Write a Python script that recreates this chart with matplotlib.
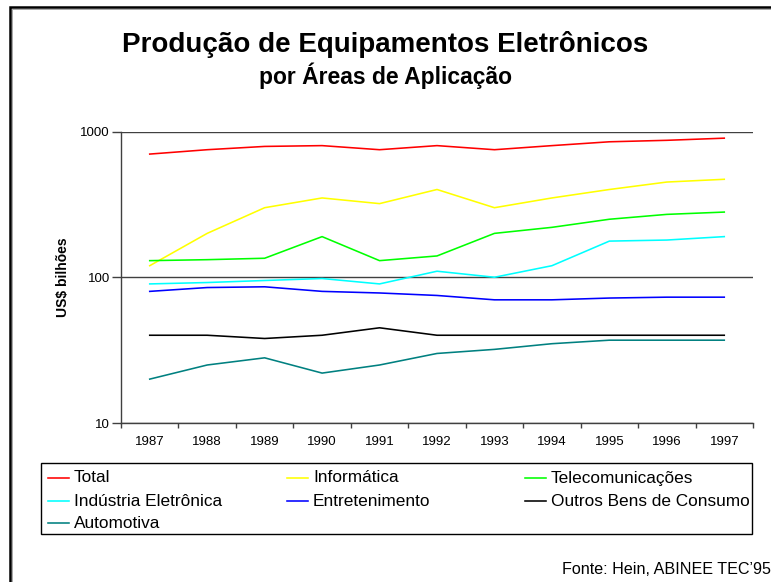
import matplotlib
matplotlib.use("Agg")
import matplotlib.pyplot as plt
from matplotlib.lines import Line2D
from matplotlib.patches import Rectangle
from matplotlib.ticker import FixedLocator, NullLocator, FixedFormatter

plt.rcParams['font.family'] = ['Liberation Sans', 'DejaVu Sans']

years = ['1987', '1988', '1989', '1990', '1991', '1992', '1993', '1994', '1995', '1996', '1997']
total = [700, 750, 790, 800, 750, 800, 750, 800, 850, 870, 900]
informatica = [120, 200, 300, 350, 320, 400, 300, 350, 400, 450, 470]
telecom = [130, 132, 135, 190, 130, 140, 200, 220, 250, 270, 280]
industria = [90, 92, 95, 98, 90, 110, 100, 120, 177, 180, 190]
entretenimento = [80, 85, 86, 80, 78, 75, 70, 70, 72, 73, 73]
outros = [40, 40, 38, 40, 45, 40, 40, 40, 40, 40, 40]
automotiva = [20, 25, 28, 22, 25, 30, 32, 35, 37, 37, 37]

names = ['Total', 'Informática', 'Telecomunicações', 'Indústria Eletrônica',
         'Entretenimento', 'Outros Bens de Consumo', 'Automotiva']
values = [total, informatica, telecom, industria, entretenimento, outros, automotiva]
colors = ['#FF0000', '#FFFF00', '#00FF00', '#00FFFF', '#0000FF', '#000000', '#008080']

W, H = 771, 582
fig = plt.figure(figsize=(W / 100, H / 100), dpi=100)

def fx(px):
    return px / W

def fy(py):
    return 1 - py / H

# outer frame (left and top edges)
fig.add_artist(Line2D([fx(10), fx(10), fx(771)], [fy(582), fy(7), fy(7)],
                      transform=fig.transFigure, color='#000000', lw=1.8,
                      solid_joinstyle='miter'))
fig.add_artist(Line2D([fx(12), fx(12), fx(771)], [fy(582), fy(9), fy(9)],
                      transform=fig.transFigure, color='#9a9a9a', lw=0.6))

ax = fig.add_axes([fx(121), fy(423), fx(753) - fx(121), fy(131.5) - fy(423)])

x = list(range(len(years)))
for name, vals, col in zip(names, values, colors):
    ax.plot(x, vals, color=col, lw=1.15, label=name)

ax.set_yscale('log')
ax.set_ylim(10, 1000)
ax.set_xlim(-0.5, len(years) - 0.5)

ax.yaxis.set_major_locator(FixedLocator([10, 100, 1000]))
ax.yaxis.set_major_formatter(FixedFormatter(['10', '100', '1000']))
ax.yaxis.set_minor_locator(NullLocator())

ax.set_xticks(x)
ax.set_xticklabels(years)
ax.set_xticks([i - 0.5 for i in range(len(years) + 1)], minor=True)
ax.tick_params(axis='x', which='major', length=0, pad=9.5, labelsize=9.5)
ax.tick_params(axis='x', which='minor', length=3.8, width=1, color='#404040', direction='out')
ax.tick_params(axis='y', which='major', length=6.5, width=1, color='#404040',
               direction='out', pad=1.5, labelsize=9.5)

for s in ['top', 'right']:
    ax.spines[s].set_visible(False)
for s in ['left', 'bottom']:
    ax.spines[s].set_color('#404040')
    ax.spines[s].set_linewidth(1.0)

ax.yaxis.grid(True, which='major', color='#404040', lw=1.0)
ax.set_axisbelow(True)

ax.set_ylabel('US$ bilhões', fontsize=10, fontweight='bold')
ax.yaxis.set_label_coords((70 - 121) / 632, 0.5)

fig.text(0.5, fy(45), 'Produção de Equipamentos Eletrônicos', ha='center', va='center',
         fontsize=20, fontweight='bold')
fig.text(0.5, fy(76), 'por Áreas de Aplicação', ha='center', va='center',
         fontsize=16.5, fontweight='bold')

# legend box laid out like the original (row-major, fixed column positions)
fig.add_artist(Rectangle((fx(41), fy(534)), fx(752) - fx(41), fy(463) - fy(534),
                         transform=fig.transFigure, fill=False, edgecolor='#000000', lw=1.0))
col_x = [48, 287, 525]
row_y = [478, 501, 523]
for i, (name, col) in enumerate(zip(names, colors)):
    r, c = divmod(i, 3)
    lx, ly = col_x[c], row_y[r]
    fig.add_artist(Line2D([fx(lx), fx(lx + 21)], [fy(ly), fy(ly)],
                          transform=fig.transFigure, color=col, lw=1.15))
    fig.text(fx(lx + 26), fy(ly), name, ha='left', va='center', fontsize=12.4)

fig.text(fx(771), fy(569), "Fonte: Hein, ABINEE TEC’95", ha='right', va='center',
         fontsize=11.6)

fig.savefig('out.png', dpi=100)
